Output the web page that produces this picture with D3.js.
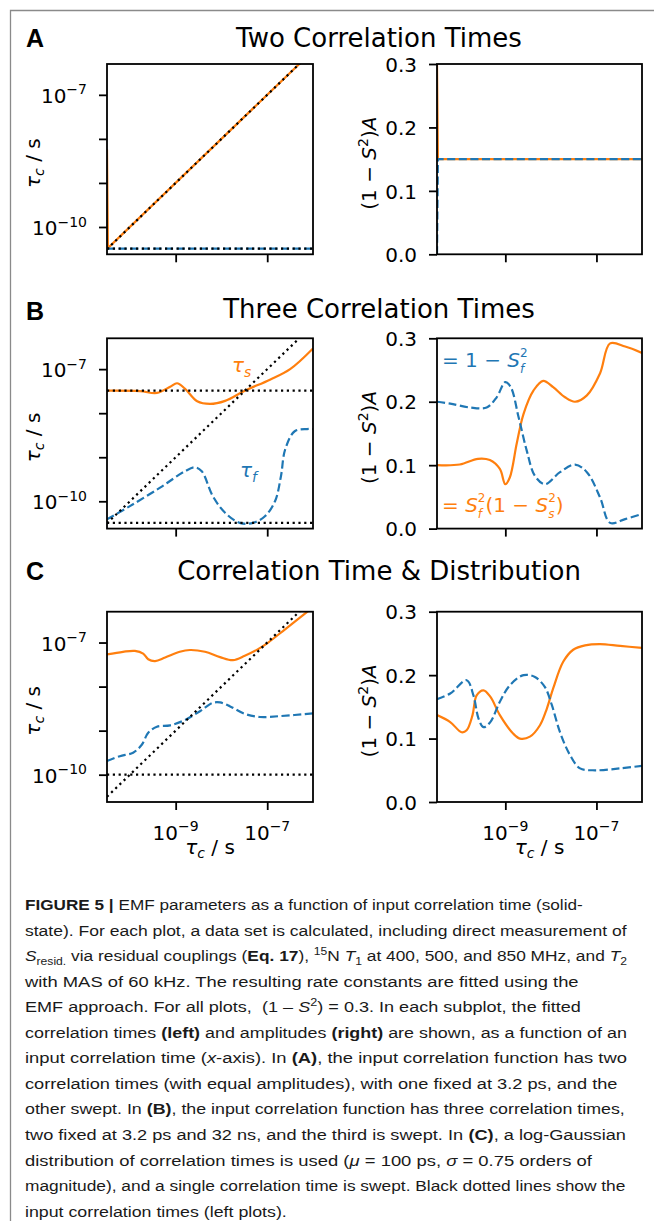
<!DOCTYPE html>
<html><head><meta charset="utf-8">
<script src="https://cdn.jsdelivr.net/npm/d3@7"></script>
<style>
html,body{margin:0;padding:0;background:#fff;}
svg{display:block;}
text,tspan{white-space:pre;}
</style></head><body>
<svg id="fig" width="654" height="1221"></svg>
<script>
// ================= DATA =================
const panelLetters = ["A", "B", "C"];
const panelTitles = ["Two Correlation Times", "Three Correlation Times", "Correlation Time & Distribution"];
const sweepRangeExp = [-10.5, -6.0];          // swept input correlation time, log10(s)
const xTickExps = [-9, -7];
const yTickExpsLeft = [-10, -9, -8, -7];
const yTickLabelExpsLeft = [-10, -7];
const yTicksRight = [0.0, 0.1, 0.2, 0.3];

// Panel A (two correlation times)
const aInputFixedExp = [-10.49];
const aSlowTauX = [-10.5, -10.48, -6.0];
const aSlowTauY = [-8.24, -10.48, -6.0];
const aFastTauX = [-10.5, -6.0];
const aFastTauY = [-10.49, -10.49];
const aSlowAmpX = [-10.5, -10.48, -6.0];
const aSlowAmpY = [0.30, 0.15, 0.15];
const aFastAmpX = [-10.5, -10.48, -6.0];
const aFastAmpY = [0.0, 0.15, 0.15];

// Panel B (three correlation times)
const bInputFixedExp = [-10.49, -7.49];
const bSlowTauX = [-10.5, -9.78, -9.41, -9.12, -8.97, -8.80, -8.53, -8.25, -7.92, -7.49, -6.94, -6.50, -6.0];
const bSlowTauY = [-7.49, -7.50, -7.54, -7.40, -7.32, -7.44, -7.73, -7.79, -7.72, -7.49, -7.24, -7.00, -6.53];
const bFastTauX = [-10.5, -10.0, -9.34, -8.80, -8.58, -8.43, -8.19, -7.92, -7.60, -7.31, -7.05, -6.83, -6.70, -6.61, -6.40, -6.13, -6.0];
const bFastTauY = [-10.41, -10.11, -9.69, -9.32, -9.23, -9.32, -9.88, -10.26, -10.49, -10.49, -10.34, -10.0, -9.43, -8.83, -8.41, -8.36, -8.36];
const bFastAmpX = [-10.5, -10.21, -9.78, -9.41, -9.19, -9.0, -8.88, -8.71, -8.53, -8.35, -8.13, -7.80, -7.47, -7.21, -6.92, -6.70, -6.37, -6.0];
const bFastAmpY = [0.200, 0.197, 0.191, 0.191, 0.207, 0.231, 0.223, 0.176, 0.123, 0.083, 0.070, 0.089, 0.101, 0.089, 0.049, 0.009, 0.015, 0.023];
const bSlowAmpX = [-10.5, -10.0, -9.6, -9.34, -9.12, -9.0, -8.9, -8.75, -8.6, -8.38, -8.17, -7.95, -7.69, -7.47, -7.21, -6.92, -6.70, -6.37, -6.0];
const bSlowAmpY = [0.100, 0.101, 0.110, 0.108, 0.094, 0.070, 0.081, 0.134, 0.181, 0.218, 0.233, 0.223, 0.207, 0.200, 0.210, 0.245, 0.292, 0.287, 0.277];

// Panel C (correlation time & distribution)
const cInputFixedExp = [-10.0];
const cSlowTauX = [-10.5, -10.15, -9.89, -9.71, -9.6, -9.45, -9.23, -8.91, -8.69, -8.36, -8.03, -7.75, -7.49, -7.2, -6.98, -6.61, -6.28, -6.0];
const cSlowTauY = [-7.27, -7.21, -7.19, -7.25, -7.38, -7.42, -7.34, -7.21, -7.17, -7.21, -7.33, -7.40, -7.30, -7.15, -7.0, -6.70, -6.43, -6.2];
const cFastTauX = [-10.5, -10.22, -9.93, -9.74, -9.6, -9.41, -9.12, -8.80, -8.47, -8.19, -8.03, -7.81, -7.49, -7.16, -6.72, -6.0];
const cFastTauY = [-9.69, -9.58, -9.50, -9.32, -9.05, -8.91, -8.88, -8.76, -8.56, -8.37, -8.36, -8.45, -8.62, -8.69, -8.67, -8.61];
const cFastAmpX = [-10.5, -10.21, -9.85, -9.70, -9.59, -9.48, -9.33, -9.12, -8.90, -8.6, -8.35, -8.13, -7.98, -7.80, -7.58, -7.36, -7.03, -6.48, -6.0];
const cFastAmpY = [0.162, 0.171, 0.192, 0.168, 0.132, 0.118, 0.126, 0.158, 0.184, 0.200, 0.197, 0.181, 0.153, 0.110, 0.074, 0.053, 0.050, 0.053, 0.057];
const cSlowAmpX = [-10.5, -10.21, -9.96, -9.85, -9.72, -9.63, -9.48, -9.33, -9.12, -8.83, -8.68, -8.46, -8.24, -8.09, -7.95, -7.73, -7.51, -7.25, -6.92, -6.48, -6.0];
const cSlowAmpY = [0.137, 0.126, 0.110, 0.113, 0.137, 0.168, 0.176, 0.166, 0.137, 0.108, 0.100, 0.103, 0.121, 0.147, 0.179, 0.221, 0.240, 0.247, 0.249, 0.246, 0.243];

// Caption lines (rich text parts)
const captionLines = [
  [["FIGURE 5 | ", {b: 1}], ["EMF parameters as a function of input correlation time (solid-"]],
  [["state). For each plot, a data set is calculated, including direct measurement of"]],
  [["S", {i: 1}], ["resid.", {sub: 1}], [" via residual couplings ("], ["Eq. 17", {b: 1}], ["), "], ["15", {sup: 1}], ["N "], ["T", {i: 1}], ["1", {sub: 1}], [" at 400, 500, and 850 MHz, and "], ["T", {i: 1}], ["2", {sub: 1}]],
  [["with MAS of 60 kHz. The resulting rate constants are fitted using the"]],
  [["EMF approach. For all plots,  (1 \u2013 "], ["S", {i: 1}], ["2", {sup: 1}], [") = 0.3. In each subplot, the fitted"]],
  [["correlation times "], ["(left)", {b: 1}], [" and amplitudes "], ["(right)", {b: 1}], [" are shown, as a function of an"]],
  [["input correlation time ("], ["x", {i: 1}], ["-axis). In "], ["(A)", {b: 1}], [", the input correlation function has two"]],
  [["correlation times (with equal amplitudes), with one fixed at 3.2 ps, and the"]],
  [["other swept. In "], ["(B)", {b: 1}], [", the input correlation function has three correlation times,"]],
  [["two fixed at 3.2 ps and 32 ns, and the third is swept. In "], ["(C)", {b: 1}], [", a log-Gaussian"]],
  [["distribution of correlation times is used ("], ["\u03bc", {i: 1}], [" = 100 ps, "], ["\u03c3", {i: 1}], [" = 0.75 orders of"]],
  [["magnitude), and a single correlation time is swept. Black dotted lines show the"]],
  [["input correlation times (left plots)."]]
];
const captionLineEnds = [583, 627, 627, 579, 581, 627, 627, 618, 625, 626, 592, 626, 287];

// ================= LAYOUT =================
const ORANGE = "#ff7f0e", BLUE = "#1f77b4";
const LX = [107, 313], RX = [437, 642];
const rowTop = [64, 338.3, 611.7];
const plotH = 190.3;
const titleBase = [46.7, 318.3, 580];
const letterBase = [46.7, 319.5, 580];
const yLogDomain = [-10.62, -6.30];
const LW = 2.2;
const FIG_FONT = "DejaVu Sans";

const svg = d3.select("#fig");
svg.append("path").attr("d", "M10.5,1230 L10.5,10.5 L660,10.5")
  .attr("fill", "none").attr("stroke", "#8a8a8a").attr("stroke-width", 1.3);

// rich text helper: one <text>, each part a tspan with explicit x/y; returns width
function rich(g, parts, size, family, fill) {
  const text = g.append("text").attr("fill", fill)
    .style("font-family", family).style("font-size", size + "px");
  let x = 0, prevStart = 0;
  parts.forEach(p => {
    const str = p[0], o = p[1] || {};
    const small = o.sup || o.sub;
    const fs = small ? size * (o.s || 0.7) : size;
    const dy = o.r !== undefined ? -size * o.r : (o.sup ? -size * 0.42 : (o.sub ? size * 0.22 : 0));
    const px = o.stack ? prevStart : x;
    const t = text.append("tspan").attr("x", px).attr("y", dy)
      .style("font-size", fs + "px")
      .style("font-style", o.i ? "italic" : "normal")
      .style("font-weight", o.b ? "bold" : "normal")
      .text(str);
    const w = t.node().getComputedTextLength();
    if (o.stack) { x = Math.max(x, px + w); }
    else { prevStart = px; x = px + w; }
  });
  return x;
}
function richAt(parent, parts, size, anchor, tx, ty, fill, rot) {
  const g = parent.append("g");
  const inner = g.append("g");
  const w = rich(inner, parts, size, FIG_FONT, fill || "#000");
  const off = anchor === "middle" ? -w / 2 : (anchor === "end" ? -w : 0);
  inner.attr("transform", `translate(${off},0)`);
  g.attr("transform", `translate(${tx},${ty})` + (rot ? ` rotate(${rot})` : ""));
  return g;
}
const expLabel = e => [["10"], ["\u2212" + Math.abs(e), {sup: 1}]];
const tauLabel = [["\u03c4", {i: 1}], ["c", {sub: 1, i: 1}], [" / s"]];
const ampLabel = [["(1 \u2212 "], ["S", {i: 1}], ["2", {sup: 1}], [")"], ["A", {i: 1}]];
const supSq = ["2", {sup: 1, s: 0.6, r: 0.5}];
const subOf = c => [c, {sub: 1, i: 1, stack: 1, s: 0.6, r: -0.3}];

const x = d3.scaleLog().domain(sweepRangeExp.map(e => 10 ** e));
const zip = (xs, ys) => xs.map((v, i) => [v, ys[i]]);

function drawPanel(r, left, right) {
  const top = rowTop[r], bot = top + plotH;
  svg.append("text").attr("x", 379).attr("y", titleBase[r]).attr("text-anchor", "middle")
    .style("font-family", FIG_FONT).style("font-size", "26px").text(panelTitles[r]);
  svg.append("text").attr("x", 26).attr("y", letterBase[r])
    .style("font-family", "Liberation Sans").style("font-weight", "bold").style("font-size", "25px").text(panelLetters[r]);

  // ---------- left plot ----------
  const xl = x.copy().range(LX);
  const yl = d3.scaleLog().domain(yLogDomain.map(e => 10 ** e)).range([bot, top]);
  const gl = svg.append("g");
  const clipL = "clipL" + r;
  svg.append("clipPath").attr("id", clipL).append("rect")
    .attr("x", LX[0]).attr("y", top).attr("width", LX[1] - LX[0]).attr("height", plotH);
  const lineL = d3.line().x(d => xl(10 ** d[0])).y(d => yl(10 ** d[1])).curve(left.curve || d3.curveCatmullRom.alpha(0.5));
  const lin = d3.line().x(d => xl(10 ** d[0])).y(d => yl(10 ** d[1]));
  const plotArea = gl.append("g").attr("clip-path", `url(#${clipL})`);
  plotArea.append("path").attr("d", lineL(left.slow)).attr("fill", "none")
    .attr("stroke", ORANGE).attr("stroke-width", LW);
  plotArea.append("path").attr("d", lineL(left.fast)).attr("fill", "none")
    .attr("stroke", BLUE).attr("stroke-width", LW).attr("stroke-dasharray", "8.1,3.5");
  left.fixed.forEach(f => {
    plotArea.append("path").attr("d", lin(sweepRangeExp.map(v => [v, f]))).attr("fill", "none")
      .attr("stroke", "#000").attr("stroke-width", LW).attr("stroke-dasharray", "2.2,3.6");
  });
  plotArea.append("path").attr("d", lin(sweepRangeExp.map(v => [v, v]))).attr("fill", "none")
    .attr("stroke", "#000").attr("stroke-width", LW).attr("stroke-dasharray", "2.2,3.6");

  const axB = gl.append("g").attr("transform", `translate(0,${bot})`)
    .call(d3.axisBottom(xl).tickValues(xTickExps.map(e => 10 ** e)).tickSize(8).tickFormat(""));
  const axL = gl.append("g").attr("transform", `translate(${LX[0]},0)`)
    .call(d3.axisLeft(yl).tickValues(yTickExpsLeft.map(e => 10 ** e)).tickSize(8).tickFormat(""));
  [axB, axL].forEach(a => { a.select(".domain").remove(); a.selectAll("line").attr("stroke-width", 1.8); });
  gl.append("rect").attr("x", LX[0]).attr("y", top).attr("width", LX[1] - LX[0]).attr("height", plotH)
    .attr("fill", "none").attr("stroke", "#000").attr("stroke-width", 1.8);
  yTickLabelExpsLeft.forEach(e => richAt(gl, expLabel(e), 20, "end", LX[0] - 20, yl(10 ** e) + 8));
  richAt(gl, tauLabel, 20, "middle", 40, (top + bot) / 2 + 4, "#000", -90);
  if (left.labels) left.labels(gl, xl, yl, top);

  // ---------- right plot ----------
  const xr = x.copy().range(RX);
  const yr = d3.scaleLinear().domain([0, 0.3]).range([bot, top]);
  const gr = svg.append("g");
  const clipR = "clipR" + r;
  svg.append("clipPath").attr("id", clipR).append("rect")
    .attr("x", RX[0]).attr("y", top).attr("width", RX[1] - RX[0]).attr("height", plotH);
  const lineR = d3.line().x(d => xr(10 ** d[0])).y(d => yr(d[1])).curve(right.curve || d3.curveCatmullRom.alpha(0.5));
  const plotR = gr.append("g").attr("clip-path", `url(#${clipR})`);
  plotR.append("path").attr("d", lineR(right.slow)).attr("fill", "none")
    .attr("stroke", ORANGE).attr("stroke-width", LW);
  plotR.append("path").attr("d", lineR(right.fast)).attr("fill", "none")
    .attr("stroke", BLUE).attr("stroke-width", LW).attr("stroke-dasharray", "8.1,3.5");
  const axRB = gr.append("g").attr("transform", `translate(0,${bot})`)
    .call(d3.axisBottom(xr).tickValues(xTickExps.map(e => 10 ** e)).tickSize(8).tickFormat(""));
  const axRL = gr.append("g").attr("transform", `translate(${RX[0]},0)`)
    .call(d3.axisLeft(yr).tickValues(yTicksRight).tickSize(8).tickPadding(12).tickFormat(d3.format(".1f")));
  [axRB, axRL].forEach(a => { a.select(".domain").remove(); a.selectAll("line").attr("stroke-width", 1.8); });
  axRL.selectAll("text").style("font-family", FIG_FONT).style("font-size", "20px").attr("dy", "0.36em").attr("fill", "#000");
  gr.append("rect").attr("x", RX[0]).attr("y", top).attr("width", RX[1] - RX[0]).attr("height", plotH)
    .attr("fill", "none").attr("stroke", "#000").attr("stroke-width", 1.8);
  richAt(gr, ampLabel, 20, "middle", 376, (top + bot) / 2 + 4, "#000", -90);
  if (right.labels) right.labels(gr, xr, yr, top);

  if (r === 2) {
    [[xl, LX], [xr, RX]].forEach(([sc, rng]) => {
      xTickExps.forEach(e => richAt(svg, expLabel(e), 20, "middle", sc(10 ** e), bot + 37.6));
      richAt(svg, tauLabel, 20, "middle", (rng[0] + rng[1]) / 2, bot + 51.5);
    });
  }
}

drawPanel(0,
  {slow: zip(aSlowTauX, aSlowTauY), fast: zip(aFastTauX, aFastTauY), fixed: aInputFixedExp, curve: d3.curveLinear},
  {slow: zip(aSlowAmpX, aSlowAmpY), fast: zip(aFastAmpX, aFastAmpY), curve: d3.curveLinear});

drawPanel(1,
  {slow: zip(bSlowTauX, bSlowTauY), fast: zip(bFastTauX, bFastTauY), fixed: bInputFixedExp,
   labels: (g, xs, ys, top) => {
     richAt(g, [["\u03c4", {i: 1}], ["s", {sub: 1, i: 1}]], 20, "start", 232, top + 34, ORANGE);
     richAt(g, [["\u03c4", {i: 1}], ["f", {sub: 1, i: 1}]], 20, "start", 240, top + 139, BLUE);
   }},
  {slow: zip(bSlowAmpX, bSlowAmpY), fast: zip(bFastAmpX, bFastAmpY),
   labels: (g, xs, ys, top) => {
     richAt(g, [["= 1 \u2212 "], ["S", {i: 1}], supSq, subOf("f")], 20, "start", 442, top + 29, BLUE);
     richAt(g, [["= "], ["S", {i: 1}], supSq, subOf("f"), ["(1 \u2212 "], ["S", {i: 1}], supSq, subOf("s"), [")"]], 20, "start", 442, top + 174, ORANGE);
   }});

drawPanel(2,
  {slow: zip(cSlowTauX, cSlowTauY), fast: zip(cFastTauX, cFastTauY), fixed: cInputFixedExp},
  {slow: zip(cSlowAmpX, cSlowAmpY), fast: zip(cFastAmpX, cFastAmpY)});

// ================= CAPTION =================
const capG = svg.append("g");
captionLines.forEach((parts, i) => {
  const g = capG.append("g");
  const w = rich(g, parts, 15.5, "Liberation Sans", "#1a1a1a");
  const target = captionLineEnds[i] - 25;
  g.attr("transform", `translate(25,${910 + i * 25.56}) scale(${target / w},1)`);
});
</script>
</body></html>
